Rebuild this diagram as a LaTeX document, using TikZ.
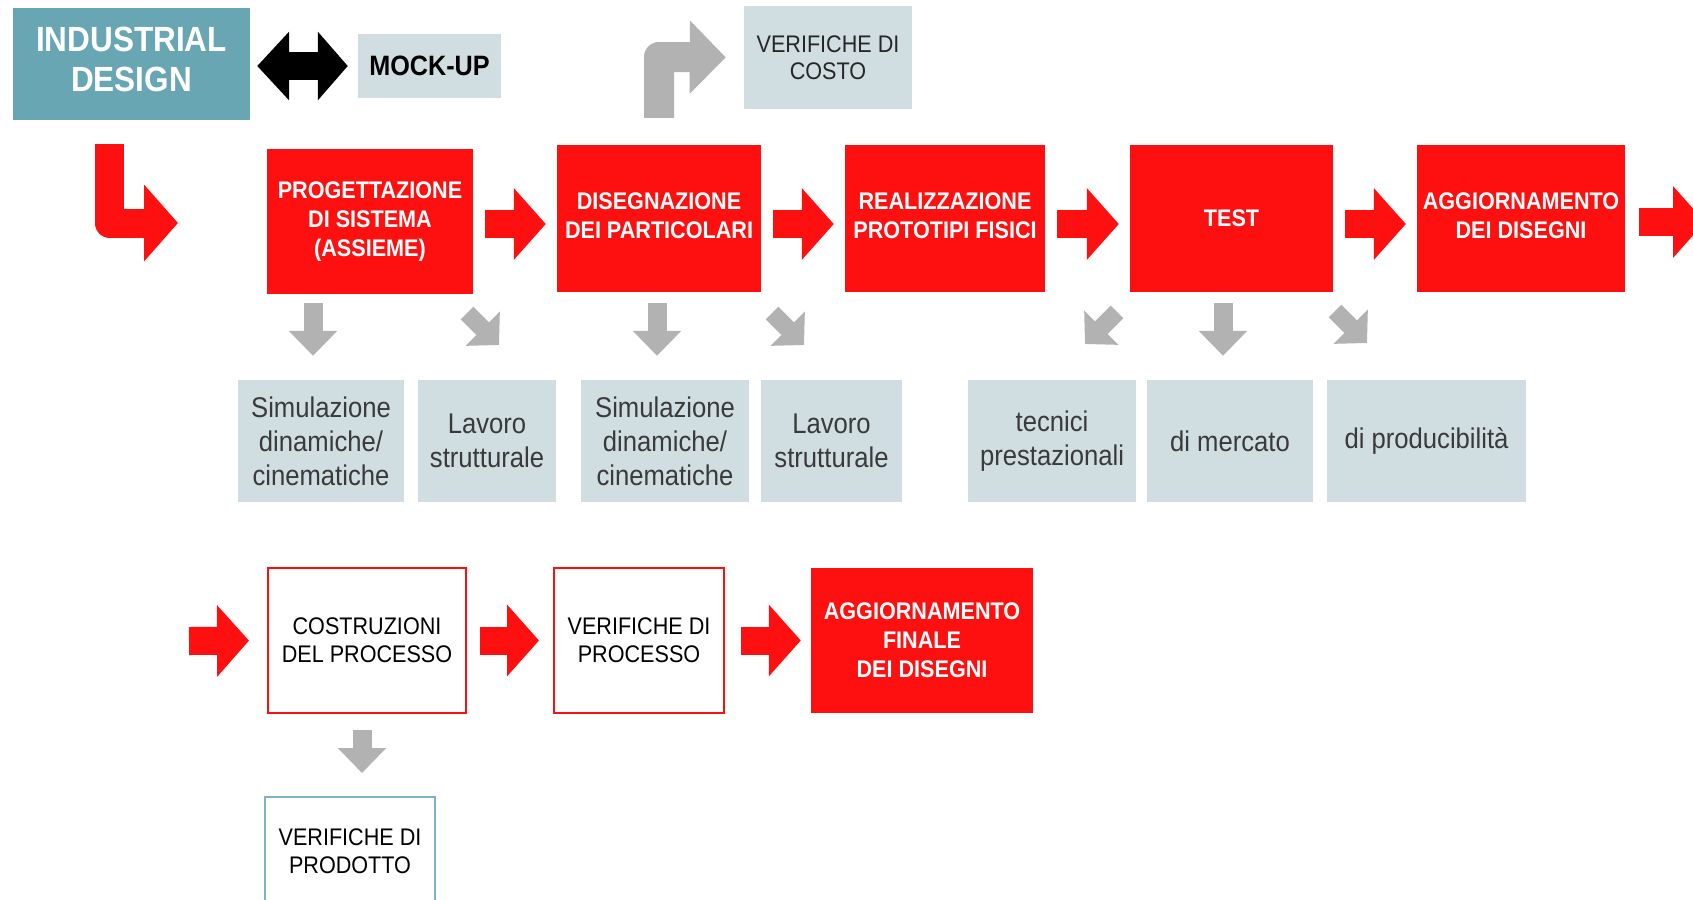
\documentclass[tikz,border=0pt]{standalone}
\usepackage{fontspec}
\setmainfont{Liberation Sans}[FakeStretch=0.9]
\usetikzlibrary{arrows.meta,calc}
\definecolor{pred}{HTML}{FF1010}
\definecolor{pteal}{HTML}{68A6B4}
\definecolor{plight}{HTML}{D0DDE1}
\definecolor{pgrey}{HTML}{B2B2B2}
\definecolor{ptext}{HTML}{3A3A3A}
\definecolor{pframe}{HTML}{7FB3C2}

\begin{document}
\begin{tikzpicture}[x=1pt,y=-1pt,
  box/.style={inner sep=0pt, align=center},
  redbox/.style={box, fill=pred, text=white, font=\bfseries\fontsize{24}{29}\selectfont},
  outbox/.style={box, fill=white, draw=pred, line width=2pt, text=black, font=\fontsize{24}{28}\selectfont},
  lightbox/.style={box, fill=plight, text=ptext, font=\fontsize{28.5}{34}\selectfont},
  capbox/.style={box, fill=plight, text=black!85, font=\fontsize{24}{27}\selectfont},
  flow/.style={draw=pred, line width=28pt, -{Triangle[length=32pt,width=70pt]}, shorten <=12pt, shorten >=11pt},
  subarrow/.style={draw=pgrey, line width=19pt, -{Triangle[length=25pt,width=47pt]}},
  slantarrow/.style={draw=pgrey, line width=18pt, -{Triangle[length=23pt,width=47pt]}},
]
\fill[white] (0,0) rectangle (1693,899);
\useasboundingbox (0,0) rectangle (1693,899);

% top: industrial design and mock-up
\node[box, fill=pteal, text=white, font=\bfseries\fontsize{35}{40}\selectfont, text depth=10pt,
      minimum width=237pt, minimum height=112pt] (idbox) at (131.5,64) {INDUSTRIAL\\DESIGN};
\node[box, fill=plight, text=black, font=\bfseries\fontsize{28}{32}\selectfont,
      minimum width=143pt, minimum height=64pt] (mock) at (429.5,66) {MOCK-UP};
\node[capbox, minimum width=168pt, minimum height=103pt] (costo) at (828,57.5) {VERIFICHE DI\\COSTO};

% main flow
\node[redbox, minimum width=206pt, minimum height=145pt] (prog) at (370,221.5) {PROGETTAZIONE\\DI SISTEMA\\(ASSIEME)};
\node[redbox, text depth=6pt, minimum width=204pt, minimum height=147pt] (dis) at (659,218.5) {DISEGNAZIONE\\DEI PARTICOLARI};
\node[redbox, text depth=6pt, minimum width=200pt, minimum height=147pt] (real) at (945,218.5) {REALIZZAZIONE\\PROTOTIPI FISICI};
\node[redbox, minimum width=203pt, minimum height=147pt] (test) at (1231.5,218.5) {TEST};
\node[redbox, text depth=6pt, minimum width=208pt, minimum height=147pt] (agg) at (1521,218.5) {AGGIORNAMENTO\\DEI DISEGNI};

% side activities
\node[lightbox, minimum width=166pt, minimum height=122pt] (sim1) at (321,441) {Simulazione\\dinamiche/\\cinematiche};
\node[lightbox, minimum width=138pt, minimum height=122pt] (lav1) at (487,441) {Lavoro\\strutturale};
\node[lightbox, minimum width=168pt, minimum height=122pt] (sim2) at (665,441) {Simulazione\\dinamiche/\\cinematiche};
\node[lightbox, minimum width=141pt, minimum height=122pt] (lav2) at (831.5,441) {Lavoro\\strutturale};
\node[lightbox, minimum width=168pt, minimum height=122pt] (tec) at (1052,441) {tecnici\\prestazionali};
\node[lightbox, minimum width=166pt, minimum height=122pt] (merc) at (1230,441) {di mercato};
\node[lightbox, minimum width=199pt, minimum height=122pt] (prodb) at (1426.5,441) {di producibilità};

% process row
\node[outbox, minimum width=198pt, minimum height=145pt] (costr) at (367,640.5) {COSTRUZIONI\\DEL PROCESSO};
\node[outbox, minimum width=170pt, minimum height=145pt] (vproc) at (639,640.5) {VERIFICHE DI\\PROCESSO};
\node[redbox, minimum width=222pt, minimum height=145pt] (aggf) at (922,640.5) {AGGIORNAMENTO\\FINALE\\DEI DISEGNI};
\node[box, fill=white, draw=pframe, line width=2pt, font=\fontsize{24}{28}\selectfont,
      minimum width=170pt, minimum height=108pt] (vprod) at (350,851) {VERIFICHE DI\\PRODOTTO};

% helper points
\coordinate (r1) at (0,224);
\coordinate (lbend) at (109.5,223);
\coordinate (ltip) at (178,223);
\coordinate (gbend) at (659,57);
\coordinate (outA) at (1705,222);
\coordinate (inB) at (189,641);

% black double arrow
\draw[line width=27pt, {Triangle[length=32pt,width=67pt]}-{Triangle[length=30pt,width=67pt]},
      shorten <=7pt, shorten >=10pt] (idbox.east |- mock.west) -- (mock.west);

% bent arrows
\draw[pred, line width=29pt, line join=round, -{Triangle[length=34pt,width=75pt]}, shorten <=24pt]
  (lbend |- idbox.south) -- (lbend) -- (ltip);
\draw[pgrey, line width=30pt, line join=round, -{Triangle[length=36pt,width=71pt]}, shorten <=27pt, shorten >=18pt]
  (dis.north) -- (gbend) -- (costo.west);

% red flow arrows
\draw[flow] (prog.east |- r1) -- (dis.west |- r1);
\draw[flow] (dis.east |- r1) -- (real.west |- r1);
\draw[flow] (real.east |- r1) -- (test.west |- r1);
\draw[flow] (test.east |- r1) -- (agg.west |- r1);
\draw[flow, shorten >=0pt, shorten <=14pt] (agg.east |- outA) -- (outA);
\draw[flow, shorten <=0pt, shorten >=18pt] (inB) -- (costr.west);
\draw[flow, shorten <=13pt, shorten >=14pt] (costr) -- (vproc);
\draw[flow, shorten <=16pt, shorten >=10pt] (vproc) -- (aggf);

% grey arrows to the side activities
\coordinate (d1) at (313,0);
\coordinate (d2) at (657,0);
\coordinate (d3) at (1223,0);
\coordinate (d4) at (362,0);
\draw[subarrow, shorten <=9pt, shorten >=24pt] (d1 |- prog.south) -- (d1 |- sim1.north);
\draw[subarrow, shorten <=11pt, shorten >=24pt] (d2 |- dis.south) -- (d2 |- sim2.north);
\draw[subarrow, shorten <=11pt, shorten >=24pt] (d3 |- test.south) -- (d3 |- merc.north);
\draw[subarrow, shorten <=16pt, shorten >=23pt] (d4 |- costr.south) -- (d4 |- vprod.north);

\coordinate (s1a) at (467,313); \coordinate (s1b) at (499,345);
\coordinate (s2a) at (772,313); \coordinate (s2b) at (804,345);
\coordinate (s3a) at (1117,312); \coordinate (s3b) at (1085,344);
\coordinate (s4a) at (1335,311); \coordinate (s4b) at (1367,343);
\draw[slantarrow] (s1a) -- (s1b);
\draw[slantarrow] (s2a) -- (s2b);
\draw[slantarrow] (s3a) -- (s3b);
\draw[slantarrow] (s4a) -- (s4b);
\end{tikzpicture}
\end{document}
